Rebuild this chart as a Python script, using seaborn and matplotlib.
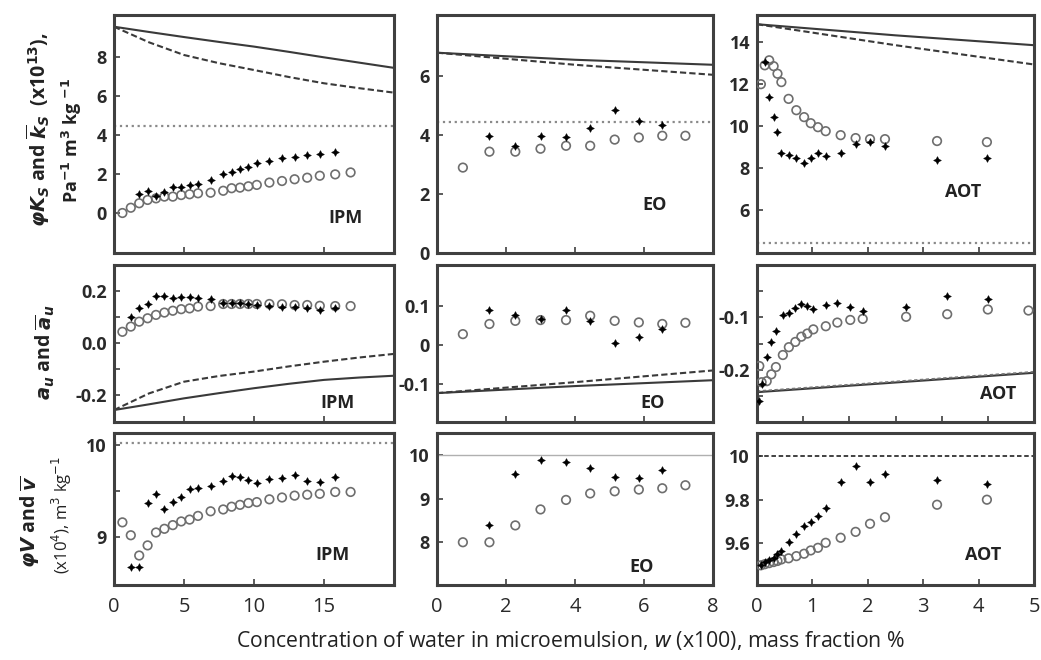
import numpy as np
import pandas as pd
import seaborn as sns
import matplotlib
matplotlib.use('Agg')
import matplotlib.pyplot as plt

nan = np.nan

# ---- IPM data (w in x100 mass fraction %)
ipm_w = [0.6, 1.2, 1.8, 2.4, 3.0, 3.6, 4.2, 4.8, 5.4, 6.0, 6.9, 7.8, 8.4, 9.0, 9.6,
         10.2, 11.1, 12.0, 12.9, 13.8, 14.7, 15.8, 16.9]
ipm_ks_open = [0.0, 0.27, 0.5, 0.67, 0.75, 0.84, 0.84, 0.92, 0.96, 1.01, 1.04, 1.14, 1.27,
               1.3, 1.37, 1.44, 1.56, 1.64, 1.73, 1.81, 1.91, 1.98, 2.08]
ipm_ks_fill = [nan, nan, 0.96, 1.13, 0.89, 1.09, 1.35, 1.35, 1.44, 1.47, 1.69, 1.98, 2.12,
               2.26, 2.38, 2.55, 2.68, 2.8, 2.89, 2.97, 3.03, 3.11, nan]
ipm_au_open = [0.043, 0.063, 0.082, 0.095, 0.108, 0.117, 0.124, 0.13, 0.133, 0.14, 0.142,
               0.15, 0.15, 0.15, 0.15, 0.15, 0.15, 0.149, 0.146, 0.146, 0.143, 0.142, 0.142]
ipm_au_fill = [nan, 0.101, 0.133, 0.149, 0.181, 0.181, 0.172, 0.178, 0.176, 0.174, 0.168,
               0.155, 0.155, 0.153, 0.15, 0.146, 0.143, 0.137, 0.137, 0.133, 0.127, 0.133, nan]
ipm_v_open = [9.16, 9.02, 8.8, 8.91, 9.05, 9.09, 9.13, 9.17, 9.19, 9.23, 9.28, 9.3, 9.33,
              9.35, 9.37, 9.38, 9.41, 9.43, 9.45, 9.46, 9.47, 9.49, 9.49]
ipm_v_fill = [nan, 8.68, 8.67, 9.37, 9.47, 9.31, 9.38, 9.44, 9.52, 9.53, 9.55, 9.61, 9.66,
              9.65, 9.62, 9.59, 9.63, 9.64, 9.67, 9.61, 9.6, 9.65, nan]

# ---- EO data
eo_w = [0.75, 1.52, 2.27, 3.0, 3.74, 4.44, 5.15, 5.85, 6.53, 7.2]
eo_ks_open = [2.9, 3.44, 3.44, 3.54, 3.64, 3.64, 3.85, 3.92, 3.98, 3.98]
eo_ks_fill = [nan, 3.98, 3.62, 3.96, 3.93, 4.23, 4.86, 4.49, 4.35, nan]
eo_au_open = [0.028, 0.054, 0.062, 0.064, 0.064, 0.075, 0.062, 0.058, 0.054, 0.057]
eo_au_fill = [nan, 0.091, 0.077, 0.068, 0.091, 0.062, 0.006, 0.02, 0.042, nan]
eo_v_open = [7.99, 7.99, 8.38, 8.75, 8.97, 9.12, 9.17, 9.21, 9.24, 9.31]
eo_v_fill = [nan, 8.38, 9.57, 9.9, 9.86, 9.72, 9.51, 9.47, 9.66, nan]

# ---- AOT data
aot_w = [0.07, 0.14, 0.22, 0.3, 0.37, 0.44, 0.57, 0.71, 0.85, 0.97, 1.1, 1.24, 1.51,
         1.78, 2.04, 2.31, 3.25, 4.15]
aot_ks_open = [12.0, 12.9, 13.14, 12.86, 12.5, 12.1, 11.3, 10.76, 10.43, 10.14, 9.95, 9.76,
               9.57, 9.43, 9.38, 9.38, 9.29, 9.24]
aot_ks_fill = [nan, 13.05, 11.4, 10.43, 9.7, 8.7, 8.6, 8.5, 8.24, 8.48, 8.7, 8.57, 8.7,
               9.14, 9.24, 9.05, 8.38, 8.5]
aot_v_open = [9.5, 9.505, 9.51, 9.515, 9.52, 9.527, 9.532, 9.542, 9.553, 9.568, 9.58, 9.603,
              9.626, 9.653, 9.69, 9.72, 9.777, 9.8]
aot_v_fill = [9.5, 9.515, 9.525, 9.535, 9.55, 9.565, 9.606, 9.645, 9.679, 9.7, 9.724, 9.762,
              9.88, 9.955, 9.883, 9.918, 9.89, 9.873]
aot_w2 = [0.05, 0.1, 0.21, 0.31, 0.41, 0.56, 0.69, 0.83, 0.96, 1.09, 1.22, 1.49, 1.74,
          2.02, 2.29, 3.23, 4.12, 5.0, 5.88]
aot_au_open = [-0.193, -0.224, -0.222, -0.209, -0.195, -0.172, -0.157, -0.147, -0.137,
               -0.131, -0.123, -0.117, -0.11, -0.105, -0.103, -0.099, -0.094, -0.085, -0.087]
aot_au_fill = [-0.259, -0.228, -0.176, -0.147, -0.126, -0.096, -0.091, -0.083, -0.075,
               -0.078, -0.085, -0.076, -0.073, -0.081, -0.087, -0.08, -0.06, -0.065, nan]

# ---- model curves (solid / dashed) and reference levels (dotted)
ipm_line_w = [0, 2.5, 5, 7.5, 10, 12.5, 15, 17.5, 20]
ipm_ks_solid = [9.55, 9.28, 9.02, 8.77, 8.53, 8.26, 7.98, 7.71, 7.44]
ipm_ks_dash = [9.55, 8.75, 8.1, 7.68, 7.33, 6.97, 6.65, 6.4, 6.17]
ipm_au_solid = [-0.258, -0.236, -0.213, -0.193, -0.174, -0.157, -0.142, -0.133, -0.126]
ipm_au_dash = [-0.258, -0.194, -0.149, -0.127, -0.11, -0.09, -0.072, -0.056, -0.042]
eo_line_w = [0, 4, 8]
eo_ks_solid = [6.8, 6.56, 6.39]
eo_ks_dash = [6.8, 6.39, 6.05]
eo_au_solid = [-0.123, -0.105, -0.09]
eo_au_dash = [-0.123, -0.095, -0.065]
aot_line_w = [0, 2.5, 5]
aot_ks_solid = [14.86, 14.33, 13.86]
aot_ks_dash = [14.86, 13.86, 12.94]
aot_line_w2 = [0, 6]
aot_au_solid = [-0.243, -0.206]
aot_au_dash = [-0.241, -0.204]
ks_ref = 4.45
v_ref_ipm = 10.02
v_ref = 10.0

sns.set_theme(style='white')
plt.rcParams['font.family'] = ['Open Sans', 'DejaVu Sans']
plt.rcParams['axes.unicode_minus'] = False
plt.rcParams['mathtext.fontset'] = 'custom'
plt.rcParams['mathtext.rm'] = 'DejaVu Sans'
plt.rcParams['mathtext.it'] = 'DejaVu Sans:italic'
plt.rcParams['mathtext.bf'] = 'DejaVu Sans:bold'
plt.rcParams['mathtext.bfit'] = 'DejaVu Sans:italic:bold'

W, H = 1041, 660
fig = plt.figure(figsize=(W / 100, H / 100), dpi=100)

cols = [(114, 394), (437, 713), (757, 1034)]
rows = [(15, 253), (265, 422), (433, 585)]

axes = {}
for r, (top, bot) in enumerate(rows):
    for c, (lft, rgt) in enumerate(cols):
        axes[r, c] = fig.add_axes([lft / W, 1 - bot / H, (rgt - lft) / W, (bot - top) / H])

GRAY_O = '#6e6e6e'
LINE_C = '#3a3a3a'
STAR = (4, 1, 0)
DASH = (0, (3, 1.5))


def draw_points(ax, w, opn, fill):
    sns.scatterplot(x=w, y=opn, ax=ax, marker='o', s=38, facecolors='none',
                    edgecolor=GRAY_O, linewidth=1.2, zorder=3)
    sns.scatterplot(x=w, y=fill, ax=ax, marker=STAR, s=32, color='black',
                    edgecolor='black', linewidth=0.3, zorder=4)


def draw_hline(ax, xr, y, ls, color, lw=1.4):
    sns.lineplot(x=list(xr), y=[y, y], ax=ax, color=color, lw=lw, linestyle=ls)


# row 1 : compressibility
ax = axes[0, 0]
sns.lineplot(x=ipm_line_w, y=ipm_ks_solid, ax=ax, color=LINE_C, lw=1.5)
sns.lineplot(x=ipm_line_w, y=ipm_ks_dash, ax=ax, color=LINE_C, lw=1.5, linestyle=DASH)
draw_hline(ax, (0, 20), ks_ref, ':', '#8a8a8a', 1.6)
draw_points(ax, ipm_w, ipm_ks_open, ipm_ks_fill)

ax = axes[0, 1]
sns.lineplot(x=eo_line_w, y=eo_ks_solid, ax=ax, color=LINE_C, lw=1.5)
sns.lineplot(x=eo_line_w, y=eo_ks_dash, ax=ax, color=LINE_C, lw=1.5, linestyle=DASH)
draw_hline(ax, (0, 8), ks_ref, ':', '#8a8a8a', 1.6)
draw_points(ax, eo_w, eo_ks_open, eo_ks_fill)

ax = axes[0, 2]
sns.lineplot(x=aot_line_w, y=aot_ks_solid, ax=ax, color=LINE_C, lw=1.5)
sns.lineplot(x=aot_line_w, y=aot_ks_dash, ax=ax, color=LINE_C, lw=1.5, linestyle=DASH)
draw_hline(ax, (0, 5), ks_ref, ':', '#8a8a8a', 1.6)
draw_points(ax, aot_w, aot_ks_open, aot_ks_fill)

# row 2 : a_u
ax = axes[1, 0]
sns.lineplot(x=ipm_line_w, y=ipm_au_solid, ax=ax, color=LINE_C, lw=1.5)
sns.lineplot(x=ipm_line_w, y=ipm_au_dash, ax=ax, color=LINE_C, lw=1.5, linestyle=DASH)
draw_points(ax, ipm_w, ipm_au_open, ipm_au_fill)

ax = axes[1, 1]
sns.lineplot(x=eo_line_w, y=eo_au_solid, ax=ax, color=LINE_C, lw=1.5)
sns.lineplot(x=eo_line_w, y=eo_au_dash, ax=ax, color=LINE_C, lw=1.5, linestyle=DASH)
draw_points(ax, eo_w, eo_au_open, eo_au_fill)

ax = axes[1, 2]
sns.lineplot(x=aot_line_w2, y=aot_au_solid, ax=ax, color=LINE_C, lw=1.5)
sns.lineplot(x=aot_line_w2, y=aot_au_dash, ax=ax, color='#777777', lw=1.2, linestyle=(0, (2, 1.5)))
draw_points(ax, aot_w2, aot_au_open, aot_au_fill)

# row 3 : specific volume
ax = axes[2, 0]
draw_hline(ax, (0, 20), v_ref_ipm, ':', '#8a8a8a', 1.6)
draw_points(ax, ipm_w, ipm_v_open, ipm_v_fill)

ax = axes[2, 1]
draw_hline(ax, (0, 8), v_ref, '-', '#b0b0b0', 1.0)
draw_points(ax, eo_w, eo_v_open, eo_v_fill)

ax = axes[2, 2]
draw_hline(ax, (0, 5), v_ref, (0, (2.5, 1.5)), '#333333', 1.3)
draw_points(ax, aot_w, aot_v_open, aot_v_fill)

# axis setup
xlims = {0: (0, 20), 1: (0, 8), 2: (0, 5)}
xticks_in = {0: [5, 10, 15], 1: [2, 4, 6], 2: [1, 2, 3, 4]}
xticks_lab = {0: [0, 5, 10, 15], 1: [0, 2, 4, 6, 8], 2: [0, 1, 2, 3, 4, 5]}
ylims = {
    (0, 0): (-2.05, 10.15), (0, 1): (0, 8.08), (0, 2): (3.95, 15.3),
    (1, 0): (-0.304, 0.30), (1, 1): (-0.197, 0.205), (1, 2): (-0.30, 0.0),
    (2, 0): (8.48, 10.13), (2, 1): (7.0, 10.52), (2, 2): (9.41, 10.105),
}
yticks = {
    (0, 0): ([0, 2, 4, 6, 8], ['0', '2', '4', '6', '8']),
    (0, 1): ([0, 2, 4, 6], ['0', '2', '4', '6']),
    (0, 2): ([6, 8, 10, 12, 14], ['6', '8', '10', '12', '14']),
    (1, 0): ([-0.2, -0.1, 0, 0.1, 0.2], ['-0.2', '', '0.0', '', '0.2']),
    (1, 1): ([-0.1, 0, 0.1], ['-0.1', '0', '0.1']),
    (1, 2): ([-0.25, -0.2, -0.15, -0.1, -0.05], ['', '-0.2', '', '-0.1', '']),
    (2, 0): ([9, 9.5, 10], ['9', '', '10']),
    (2, 1): ([8, 9, 10], ['8', '9', '10']),
    (2, 2): ([9.6, 9.8, 10], ['9.6', '9.8', '10']),
}
names = {0: 'IPM', 1: 'EO', 2: 'AOT'}
name_pos = {
    (0, 0): (0.825, 0.147), (0, 1): (0.79, 0.20), (0, 2): (0.744, 0.258),
    (1, 0): (0.80, 0.123), (1, 1): (0.78, 0.12), (1, 2): (0.87, 0.178),
    (2, 0): (0.78, 0.197), (2, 1): (0.74, 0.12), (2, 2): (0.816, 0.197),
}

for (r, c), ax in axes.items():
    ax.set_facecolor('white')
    xl = (0, 6) if (r, c) == (1, 2) else xlims[c]
    ax.set_xlim(*xl)
    ax.set_ylim(*ylims[r, c])
    for sp in ax.spines.values():
        sp.set_visible(True)
        sp.set_linewidth(2.2)
        sp.set_color('#404040')
    ax.tick_params(direction='in', length=4, width=1.2, color='#404040',
                   left=True, bottom=True, top=False, right=False)
    yt, yl = yticks[r, c]
    ax.set_yticks(yt)
    ax.set_yticklabels(yl, fontsize=13, fontweight='bold', color='#2a2a2a')
    ax.tick_params(axis='y', pad=5)
    if r < 2:
        ax.set_xticks([1, 2, 3, 4, 5] if (r, c) == (1, 2) else xticks_in[c])
        ax.tick_params(axis='x', labelbottom=False)
    else:
        ax.set_xticks(xticks_lab[c])
        ax.set_xticklabels([str(v) for v in xticks_lab[c]], fontsize=14.5, color='#2a2a2a')
        ax.tick_params(axis='x', pad=9)
    ax.set_xlabel('')
    ax.set_ylabel('')
    px, py = name_pos[r, c]
    ax.text(px, py, names[c], transform=ax.transAxes, ha='center', va='center',
            fontsize=13, fontweight='bold', color='#222222')

# y-axis titles
fig.text(38 / W, 1 - 130 / H,
         r'$\mathbfit{\varphi K_S}$ and $\mathbfit{\overline{k}_S}$  (x10$^{\mathbf{13}}$),',
         rotation=90, ha='center', va='center', fontsize=14, fontweight='bold', color='#222222')
fig.text(72 / W, 1 - 140 / H,
         r'Pa$^{\mathbf{-1}}$ m$^{\mathbf{3}}$ kg $^{\mathbf{-1}}$',
         rotation=90, ha='center', va='center', fontsize=13, fontweight='bold', color='#222222')
fig.text(45 / W, 1 - 352 / H, r'$\mathbfit{a_u}$ and $\mathbfit{\overline{a}_u}$',
         rotation=90, ha='center', va='center', fontsize=14, fontweight='bold', color='#222222')
fig.text(30 / W, 1 - 522 / H, r'$\mathbfit{\varphi V}$ and $\mathbfit{\overline{v}}$',
         rotation=90, ha='center', va='center', fontsize=14, fontweight='bold', color='#222222')
fig.text(62 / W, 1 - 515 / H, r'(x10$^4$), m$^3$ kg$^{-1}$',
         rotation=90, ha='center', va='center', fontsize=12, color='#222222')

fig.text(570 / W, 1 - 640 / H,
         r'Concentration of water in microemulsion, $\mathit{w}$ (x100), mass fraction %',
         ha='center', va='center', fontsize=15.3, color='#222222')

fig.savefig('out.png', dpi=100, facecolor='white')
